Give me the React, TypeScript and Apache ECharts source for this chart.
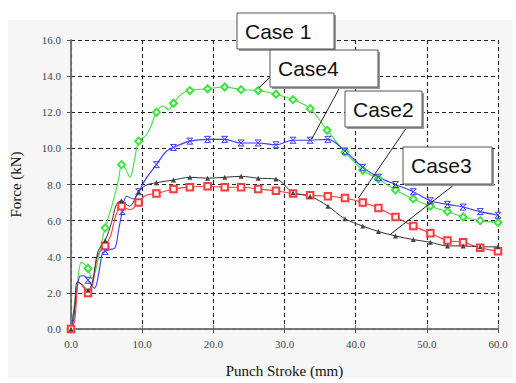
import React, { useEffect, useRef } from "react";
import * as echarts from "echarts";

// [x (mm), force (kN), marker?]
const case1: number[][] = [
  [0, 0, 1], [0.8, 2.2], [1.5, 3.7], [2.4, 3.35, 1], [2.9, 2.8], [3.5, 3.3], [4.2, 4.6], [4.8, 5.6, 1],
  [5.8, 6.9], [6.7, 8.3], [7.1, 9.1, 1], [7.6, 8.9], [8.3, 8.4], [8.9, 9.3], [9.5, 10.4, 1], [10.5, 10.7],
  [11.2, 11.2], [12.0, 12.0, 1], [12.9, 12.35], [13.7, 12.15], [14.4, 12.5, 1], [15.5, 13.0], [16.7, 13.2, 1],
  [19.2, 13.3, 1], [21.6, 13.4, 1], [23.9, 13.25, 1], [26.3, 13.2, 1], [28.8, 13.0, 1], [31.2, 12.7, 1],
  [33.6, 12.2, 1], [36.0, 11.0, 1], [38.5, 9.8, 1], [41.0, 8.8, 1], [43.2, 8.3, 1], [45.6, 7.7, 1],
  [48.1, 7.2, 1], [50.5, 6.8, 1], [52.9, 6.5, 1], [55.1, 6.2, 1], [57.5, 6.0, 1], [60, 5.9, 1],
];
const case4: number[][] = [
  [0, 0, 1], [0.6, 1.4], [1.2, 2.9], [1.8, 2.95], [2.4, 2.7, 1], [3.3, 2.25], [3.9, 3.1], [4.4, 4.2],
  [4.8, 4.3, 1], [5.5, 4.4], [6.2, 4.5], [6.7, 5.5], [7.2, 6.5, 1], [7.8, 7.35], [8.8, 7.2], [9.5, 7.6, 1],
  [10.5, 8.3], [12.0, 9.1, 1], [13.3, 9.8], [14.4, 10.05, 1], [16.7, 10.4, 1], [19.2, 10.5, 1], [21.6, 10.5, 1],
  [23.9, 10.3, 1], [26.3, 10.3, 1], [28.8, 10.2, 1], [31.2, 10.45, 1], [33.6, 10.45, 1], [36.1, 10.5, 1],
  [38.5, 9.85, 1], [41.0, 8.95, 1], [43.2, 8.4, 1], [45.6, 8.0, 1], [48.1, 7.6, 1], [50.5, 7.1, 1],
  [52.9, 6.9, 1], [55.1, 6.75, 1], [57.5, 6.5, 1], [60, 6.3, 1],
];
const case2: number[][] = [
  [0, 0, 1], [0.5, 0.4], [1.1, 2.6], [1.7, 2.35], [2.4, 2.0, 1], [3.0, 2.4], [3.8, 4.1], [4.8, 4.6, 1],
  [5.6, 5.2], [6.3, 6.3], [7.1, 6.8, 1], [8.3, 6.6], [9.5, 7.0, 1], [10.5, 7.4], [12.0, 7.5, 1],
  [14.4, 7.75, 1], [16.7, 7.85, 1], [19.2, 7.9, 1], [21.6, 7.85, 1], [23.9, 7.85, 1], [26.3, 7.75, 1],
  [28.8, 7.65, 1], [31.2, 7.5, 1], [33.6, 7.4, 1], [36.1, 7.35, 1], [38.5, 7.25, 1], [41.0, 7.0, 1],
  [43.2, 6.7, 1], [45.6, 6.2, 1], [48.1, 5.7, 1], [50.5, 5.3, 1], [52.9, 4.9, 1], [55.1, 4.8, 1],
  [57.5, 4.5, 1], [60, 4.3, 1],
];
const case3: number[][] = [
  [0, 0, 1], [0.4, 0.6], [0.9, 2.6], [1.6, 2.45], [2.4, 2.15, 1], [3.0, 2.6], [3.8, 4.3], [4.8, 4.9, 1],
  [5.7, 5.9], [6.4, 6.9], [7.1, 7.1, 1], [8.2, 6.8], [9.5, 7.6, 1], [10.5, 7.95], [12.0, 8.1, 1],
  [14.4, 8.25, 1], [16.7, 8.4, 1], [19.2, 8.35, 1], [21.6, 8.4, 1], [23.9, 8.45, 1], [26.3, 8.35, 1],
  [28.8, 8.3, 1], [31.2, 7.55, 1], [33.6, 7.35, 1], [36.1, 6.8, 1], [38.5, 6.1, 1], [41.0, 5.7, 1],
  [43.2, 5.4, 1], [45.6, 5.15, 1], [48.1, 4.95, 1], [50.5, 4.8, 1], [52.9, 4.6, 1], [55.1, 4.6, 1],
  [57.5, 4.55, 1], [60, 4.55, 1],
];

// arrow targets (data coords) for the callouts
const arrowCase1 = [26.4, 13.35];
const arrowCase4 = [33.8, 10.5];
const arrowCase2 = [40.4, 7.25];
const arrowCase3 = [44.9, 5.25];

const xTicks = [0, 10, 20, 30, 40, 50, 60];
const yTicks = [0, 2, 4, 6, 8, 10, 12, 14, 16];

const SERIF = "Liberation Serif";
const SANS = "Liberation Sans";

function toData(pts: number[][], symbol: string) {
  return pts.map((p) => ({ value: [p[0], p[1]], symbol: p[2] ? symbol : "none" }));
}

function box(x: number, y: number, w: number, h: number, label: string) {
  return {
    type: "group",
    z: 100,
    children: [
      { type: "rect", z: 100, shape: { x: x + 2, y: y + 2, width: w, height: h }, style: { fill: "#9a9a9a" } },
      { type: "rect", z: 101, shape: { x, y, width: w, height: h }, style: { fill: "#ffffff", stroke: "#555", lineWidth: 1 } },
      {
        type: "text", z: 102, x: x + 8, y: y + h / 2,
        style: { text: label, fill: "#111", fontFamily: SANS, fontSize: 21, verticalAlign: "middle" },
      },
    ],
  };
}

function arrow(from: number[], to: number[]) {
  return [{ x: from[0], y: from[1] }, { coord: to }];
}

export default function App() {
  const ref = useRef<HTMLDivElement>(null);
  useEffect(() => {
    if (!ref.current) return;
    const chart = echarts.init(ref.current, undefined, { renderer: "svg" });
    const mlStyle = {
      silent: true,
      symbol: ["none", "arrow"],
      symbolSize: [0, 9],
      label: { show: false },
      lineStyle: { color: "#222", width: 1, type: "solid" },
      emphasis: { disabled: true },
    };
    const axisLabel = { color: "#444", fontFamily: SERIF, fontSize: 11 };
    const dash = { color: "#222", type: [4, 3], width: 1.1 };
    chart.setOption({
      animation: false,
      backgroundColor: "#ffffff",
      grid: { left: 69, right: 18, top: 40, bottom: 52, show: true, backgroundColor: "#fdfdfd", borderWidth: 0 },
      xAxis: [
        {
          type: "value", min: 0, max: 60, interval: 10,
          name: "Punch Stroke (mm)", nameLocation: "middle", nameGap: 34,
          nameTextStyle: { color: "#111", fontFamily: SERIF, fontSize: 15 },
          axisLine: { show: true, onZero: false, lineStyle: { color: "#555", width: 1.5 } },
          axisTick: { show: true, length: 4, lineStyle: { color: "#555" } },
          axisLabel: { ...axisLabel, margin: 9, formatter: (v: number) => (xTicks.includes(v) ? v.toFixed(1) : "") },
          splitLine: { show: true, lineStyle: dash },
        },
        {
          type: "value", min: 0, max: 60, interval: 10, position: "top",
          axisLine: { show: true, lineStyle: { color: "#777", width: 1.5 } },
          axisTick: { show: true, length: 4, lineStyle: { color: "#777" } },
          axisLabel: { show: false }, splitLine: { show: false },
        },
      ],
      yAxis: [
        {
          type: "value", min: 0, max: 16, interval: 2,
          name: "Force (kN)", nameLocation: "middle", nameGap: 48,
          nameTextStyle: { color: "#111", fontFamily: SERIF, fontSize: 15 },
          axisLine: { show: true, onZero: false, lineStyle: { color: "#555", width: 1.5 } },
          axisTick: { show: true, length: 4, lineStyle: { color: "#555" } },
          axisLabel: { ...axisLabel, margin: 10, formatter: (v: number) => (yTicks.includes(v) ? v.toFixed(1) : "") },
          splitLine: { show: true, lineStyle: dash },
        },
        {
          type: "value", min: 0, max: 16, interval: 2, position: "right",
          axisLine: { show: true, lineStyle: { color: "#777", width: 1.5 } },
          axisTick: { show: false }, axisLabel: { show: false }, splitLine: { show: false },
        },
      ],
      series: [
        {
          name: "Case 1", type: "line", smooth: 0.35, data: toData(case1, "emptyDiamond"),
          symbolSize: 7, lineStyle: { color: "#3ee33e", width: 1.1 }, itemStyle: { color: "#3ee33e", borderWidth: 1 },
          markLine: { ...mlStyle, data: [arrow([300, 49], arrowCase1)] },
        },
        {
          name: "Case4", type: "line", smooth: 0.35, data: toData(case4, "path://M0,0H10L0,10H10Z"),
          symbolSize: 6, lineStyle: { color: "#3a3aff", width: 1.1 }, itemStyle: { color: "transparent", borderColor: "#3a3aff", borderWidth: 1 },
          markLine: { ...mlStyle, data: [arrow([340, 87], arrowCase4)] },
        },
        {
          name: "Case2", type: "line", smooth: 0.35, data: toData(case2, "emptyRect"),
          symbolSize: 6.5, lineStyle: { color: "#ff3a3a", width: 1.1 }, itemStyle: { color: "#ff3a3a", borderWidth: 1 },
          markLine: { ...mlStyle, data: [arrow([407, 127], arrowCase2)] },
        },
        {
          name: "Case3", type: "line", smooth: 0.35, data: toData(case3, "triangle"),
          symbolSize: 5, lineStyle: { color: "#333", width: 1 }, itemStyle: { color: "#444" },
          markLine: { ...mlStyle, data: [arrow([455, 184], arrowCase3)] },
        },
      ],
      graphic: [
        { type: "rect", z: -10, silent: true, shape: { x: 8, y: 20, width: 505, height: 358 }, style: { fill: "#f6f6f6" } },
        box(237, 13, 97, 36, "Case 1"),
        box(270, 50, 108, 37, "Case4"),
        box(345, 91, 77, 36, "Case2"),
        box(403, 147, 89, 37, "Case3"),
      ],
    });
    return () => chart.dispose();
  }, []);
  return <div ref={ref} style={{ position: "absolute", left: 0, top: 0, width: 516, height: 383 }} />;
}
